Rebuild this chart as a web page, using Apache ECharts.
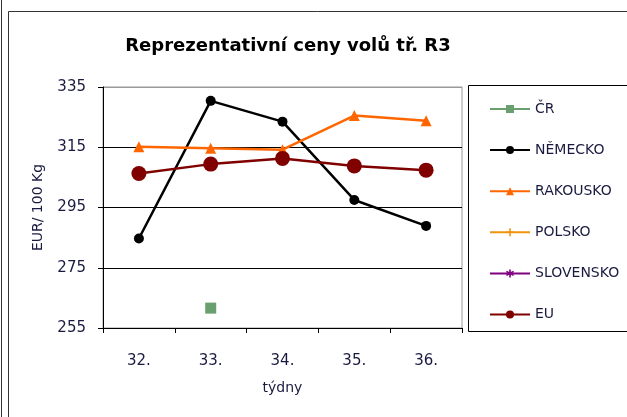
<!DOCTYPE html>
<html>
<head>
<meta charset="utf-8">
<script src="https://cdn.jsdelivr.net/npm/echarts@6/dist/echarts.min.js"></script>
<style>
  html, body { margin: 0; padding: 0; background: #fff; }
  #chart { width: 627px; height: 417px; }
</style>
</head>
<body>
<div id="chart"></div>
<script>
// weeks on the x axis
const weeks = ['32.', '33.', '34.', '35.', '36.'];
const yTicks = [255, 275, 295, 315, 335];

// prices EUR / 100 kg
const cr = [null, 261.6, null, null, null];
const nemecko = [284.7, 330.4, 323.5, 297.5, 288.9];
const rakousko = [315.2, 314.7, 314.2, 325.5, 323.8];
const polsko = [null, null, null, null, null];
const slovensko = [null, null, null, null, null];
const eu = [306.3, 309.4, 311.3, 308.8, 307.4];

const FONT = 'DejaVu Sans';
const plusPath = 'path://M4,0h2v4h4v2h-4v4h-2v-4h-4v-2h4z';
const starPath = 'path://M4,0h2v3.3l2.9-1.7l1,1.7l-2.9,1.7l2.9,1.7l-1,1.7l-2.9-1.7v3.3h-2v-3.3l-2.9,1.7l-1-1.7l2.9-1.7l-2.9-1.7l1-1.7l2.9,1.7z';

const chart = echarts.init(document.getElementById('chart'));

function lineSeries(name, data, color, symbol, size, width) {
  return {
    name,
    type: 'line',
    data,
    symbol,
    symbolSize: size,
    showAllSymbol: true,
    connectNulls: false,
    lineStyle: { color, width },
    itemStyle: { color },
    emphasis: { disabled: true },
  };
}

chart.setOption({
  animation: false,
  backgroundColor: '#fff',
  title: {
    text: 'Reprezentativní ceny volů tř. R3',
    left: 283,
    textAlign: 'center',
    top: 32,
    textStyle: { fontFamily: FONT, fontSize: 18, fontWeight: 'bold', color: '#000' },
  },
  graphic: [
    { type: 'line', shape: { x1: 1.5, y1: 0, x2: 1.5, y2: 417 }, style: { stroke: '#333', lineWidth: 1 } },
    { type: 'line', shape: { x1: 8.5, y1: 11.5, x2: 8.5, y2: 417 }, style: { stroke: '#333', lineWidth: 1 } },
    { type: 'line', shape: { x1: 8.5, y1: 11.5, x2: 627, y2: 11.5 }, style: { stroke: '#333', lineWidth: 1 } },
    { type: 'rect', shape: { x: 468.5, y: 85.5, width: 200, height: 246 }, style: { fill: 'none', stroke: '#000', lineWidth: 1 } },
  ],
  legend: {
    orient: 'vertical',
    left: 484,
    top: 97,
    itemWidth: 40,
    itemHeight: 10,
    itemGap: 27.1,
    textStyle: { fontFamily: FONT, fontSize: 14, color: '#1a1a40' },
    data: ['ČR', 'NĚMECKO', 'RAKOUSKO', 'POLSKO', 'SLOVENSKO', 'EU'],
  },
  grid: { left: 103, top: 87, width: 359, height: 241, show: true, borderColor: '#999', borderWidth: 1 },
  xAxis: {
    type: 'category',
    data: weeks,
    name: 'týdny',
    nameLocation: 'middle',
    nameGap: 53,
    nameTextStyle: { fontFamily: FONT, fontSize: 14, color: '#1a1a40' },
    axisLine: { lineStyle: { color: '#000', width: 1 } },
    axisTick: { show: true, inside: false, length: 5, lineStyle: { color: '#000' } },
    axisLabel: { fontFamily: FONT, fontSize: 15, color: '#1a1a40', margin: 26 },
  },
  yAxis: {
    type: 'value',
    min: yTicks[0],
    max: yTicks[yTicks.length - 1],
    interval: 20,
    name: 'EUR/ 100 Kg',
    nameLocation: 'middle',
    nameGap: 58,
    nameTextStyle: { fontFamily: FONT, fontSize: 14, color: '#1a1a40' },
    axisLine: { show: true, lineStyle: { color: '#000', width: 1 } },
    axisTick: { show: true, length: 5, lineStyle: { color: '#000' } },
    axisLabel: { fontFamily: FONT, fontSize: 15, color: '#1a1a40', margin: 17 },
    splitLine: { show: true, lineStyle: { color: ['#000', '#000', '#000', '#000', '#999'], width: 1 } },
  },
  series: [
    lineSeries('ČR', cr, '#6a9f6f', 'rect', 11, 2),
    lineSeries('NĚMECKO', nemecko, '#000000', 'circle', 10, 2.5),
    lineSeries('RAKOUSKO', rakousko, '#ff6600', 'triangle', 11, 2.5),
    lineSeries('POLSKO', polsko, '#f0930f', plusPath, 8, 2),
    lineSeries('SLOVENSKO', slovensko, '#800080', starPath, 8, 2),
    lineSeries('EU', eu, '#800000', 'circle', 15, 2.5),
  ],
});
</script>
</body>
</html>
